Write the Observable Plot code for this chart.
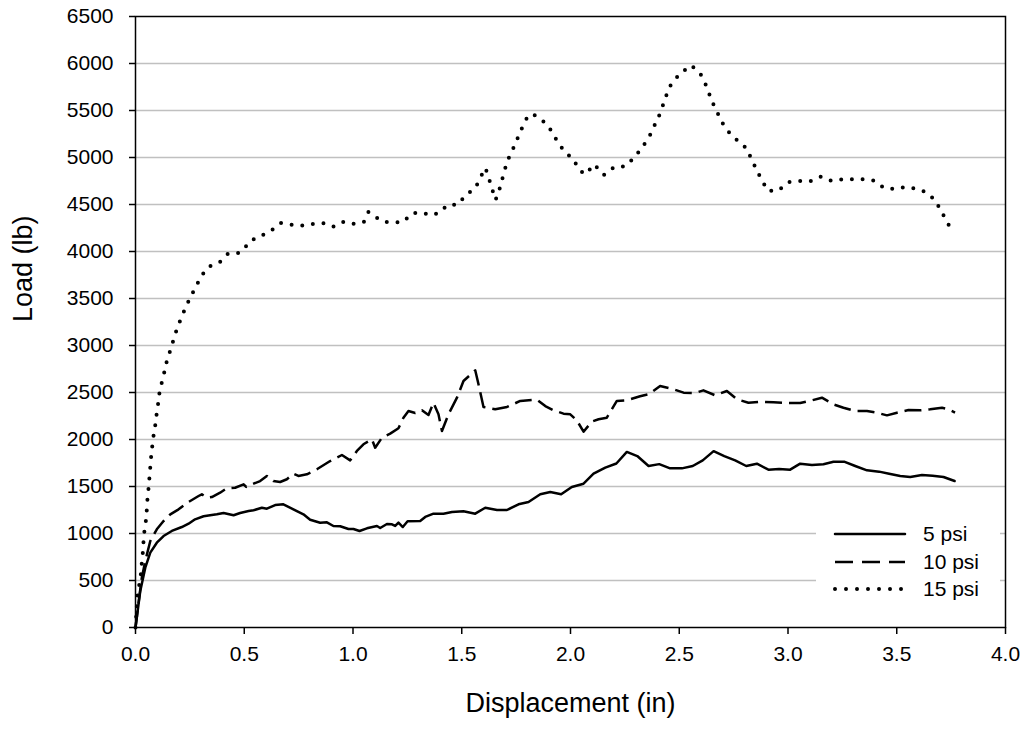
<!DOCTYPE html>
<html><head><meta charset="utf-8">
<script src="https://cdn.jsdelivr.net/npm/d3@7"></script>
<script src="https://cdn.jsdelivr.net/npm/@observablehq/plot@0.6"></script>
<style>
body{margin:0;background:#fff;font-family:"Liberation Sans",Arial,sans-serif;}
#wrap{position:relative;width:1027px;height:729px;}
#legend{position:absolute;left:816px;top:516px;width:184px;height:92px;background:#fff;}
.row{position:absolute;left:0;height:24px;width:184px;}
.row svg{position:absolute;left:17px;top:7px;}
.row span{position:absolute;left:107px;top:0;font-size:21px;line-height:24px;color:#000;}
</style></head><body><div id="wrap"><div id="legend"></div></div>
<script>
// ---- data ----
const seriesNames = ["5 psi", "10 psi", "15 psi"];
const xTicks = [0, 0.5, 1, 1.5, 2, 2.5, 3, 3.5, 4];
const yTicks = [0,500,1000,1500,2000,2500,3000,3500,4000,4500,5000,5500,6000,6500];
const xTitle = "Displacement (in)";
const yTitle = "Load (lb)";

const disp5 = [0,0.022,0.045,0.068,0.098,0.129,0.167,0.213,0.244,0.274,0.313,0.343,0.374,0.405,0.451,0.481,0.520,0.543,0.581,0.604,0.642,0.680,0.726,0.772,0.803,0.849,0.880,0.910,0.941,0.979,1.002,1.030,1.064,1.110,1.125,1.156,1.179,1.194,1.209,1.229,1.251,1.309,1.332,1.370,1.416,1.455,1.508,1.562,1.608,1.662,1.708,1.761,1.807,1.861,1.907,1.957,2.006,2.060,2.106,2.160,2.211,2.259,2.307,2.359,2.408,2.458,2.512,2.562,2.608,2.658,2.707,2.757,2.808,2.857,2.910,2.959,3.010,3.056,3.110,3.163,3.209,3.258,3.309,3.363,3.419,3.465,3.516,3.562,3.616,3.665,3.715,3.766];
const load5 = [0,389,636,796,902,973,1027,1069,1104,1151,1183,1194,1204,1218,1194,1218,1239,1247,1274,1264,1303,1311,1257,1204,1147,1115,1119,1080,1077,1048,1048,1027,1055,1080,1058,1101,1098,1080,1115,1069,1130,1133,1176,1211,1211,1229,1236,1211,1274,1250,1250,1311,1335,1417,1441,1417,1495,1530,1636,1700,1745,1868,1824,1718,1738,1693,1693,1718,1778,1876,1824,1778,1718,1743,1679,1686,1679,1743,1729,1736,1764,1764,1718,1672,1658,1636,1612,1601,1622,1615,1601,1558];

const disp10 = [0,0.015,0.029,0.045,0.068,0.098,0.129,0.160,0.198,0.244,0.290,0.305,0.328,0.351,0.389,0.420,0.458,0.497,0.509,0.543,0.573,0.604,0.634,0.665,0.696,0.726,0.749,0.788,0.834,0.895,0.949,0.987,1.018,1.048,1.087,1.102,1.133,1.171,1.209,1.232,1.255,1.286,1.317,1.347,1.370,1.393,1.409,1.439,1.478,1.508,1.562,1.577,1.600,1.654,1.708,1.769,1.846,1.884,1.922,1.968,1.999,2.029,2.060,2.098,2.129,2.167,2.213,2.259,2.320,2.359,2.412,2.474,2.520,2.573,2.611,2.665,2.719,2.765,2.818,2.872,2.933,2.995,3.056,3.110,3.156,3.209,3.255,3.309,3.363,3.409,3.455,3.501,3.554,3.608,3.654,3.708,3.738,3.768];
const load10 = [0,282,530,707,920,1045,1133,1204,1257,1335,1399,1417,1381,1388,1434,1481,1487,1523,1495,1530,1558,1612,1558,1548,1577,1636,1612,1630,1683,1771,1835,1778,1878,1949,2002,1913,2019,2062,2119,2232,2303,2282,2311,2261,2391,2268,2090,2268,2445,2622,2736,2587,2346,2321,2346,2410,2424,2356,2311,2275,2268,2204,2083,2190,2215,2232,2410,2417,2460,2481,2569,2534,2498,2495,2523,2470,2516,2428,2391,2402,2396,2388,2388,2417,2445,2374,2338,2303,2303,2285,2257,2285,2314,2311,2321,2338,2321,2285];

const disp15 = [0,0.009,0.018,0.025,0.029,0.034,0.037,0.041,0.048,0.052,0.055,0.060,0.064,0.068,0.072,0.077,0.083,0.091,0.097,0.104,0.110,0.121,0.133,0.144,0.160,0.175,0.190,0.210,0.230,0.253,0.278,0.302,0.339,0.385,0.423,0.460,0.494,0.524,0.572,0.621,0.667,0.714,0.763,0.812,0.862,0.909,0.958,1.007,1.050,1.071,1.103,1.137,1.180,1.228,1.275,1.320,1.358,1.398,1.434,1.482,1.519,1.563,1.586,1.609,1.625,1.640,1.655,1.668,1.681,1.695,1.708,1.731,1.752,1.773,1.795,1.824,1.871,1.913,1.940,1.972,2.014,2.040,2.069,2.108,2.154,2.202,2.252,2.293,2.331,2.363,2.385,2.408,2.426,2.443,2.464,2.508,2.556,2.600,2.624,2.642,2.662,2.687,2.711,2.760,2.809,2.832,2.855,2.880,2.908,2.955,3.004,3.052,3.102,3.151,3.199,3.248,3.297,3.346,3.395,3.442,3.492,3.540,3.589,3.637,3.677,3.704,3.731,3.756];
const load15 = [0,335,466,572,690,806,920,1027,1140,1253,1367,1481,1594,1707,1821,1928,2040,2154,2268,2381,2494,2608,2721,2835,2949,3062,3174,3292,3402,3516,3626,3739,3842,3881,3973,3973,4009,4108,4161,4218,4303,4285,4274,4292,4303,4264,4317,4292,4314,4420,4367,4317,4310,4310,4409,4413,4385,4413,4495,4498,4601,4676,4789,4888,4775,4662,4548,4615,4729,4842,4955,5066,5179,5293,5406,5466,5395,5282,5168,5066,4977,4867,4821,4927,4814,4899,4906,4998,5112,5225,5335,5449,5562,5676,5789,5902,5981,5878,5764,5651,5537,5424,5311,5197,5098,4984,4870,4757,4644,4647,4740,4750,4747,4796,4753,4768,4768,4768,4753,4675,4665,4686,4668,4629,4544,4431,4317,4208];

// ---- styles ----
const lineStyles = [
  {strokeWidth: 2.5, strokeDasharray: null, strokeLinecap: "round", legendDash: null},
  {strokeWidth: 2.5, strokeDasharray: "17,7", strokeLinecap: "butt", legendDash: "18,9"},
  {strokeWidth: 4, strokeDasharray: "0,10.7", strokeLinecap: "round", legendDash: "0,11"}
];
const series = [
  {name: seriesNames[0], disp: disp5, load: load5},
  {name: seriesNames[1], disp: disp10, load: load10},
  {name: seriesNames[2], disp: disp15, load: load15}
];

const lineMarks = series.map((s, k) => Plot.line(d3.range(s.disp.length), {
  x: i => s.disp[i], y: i => s.load[i], stroke: "black",
  strokeWidth: lineStyles[k].strokeWidth,
  strokeDasharray: lineStyles[k].strokeDasharray,
  strokeLinecap: lineStyles[k].strokeLinecap,
  strokeLinejoin: "round"
}));

const chart = Plot.plot({
  width: 1027, height: 729,
  marginLeft: 135, marginRight: 22, marginTop: 16, marginBottom: 102,
  style: {fontFamily: "Liberation Sans, Arial, sans-serif", fontSize: "21px", color: "black", background: "white"},
  x: {domain: [0, 4]},
  y: {domain: [0, 6500]},
  marks: [
    Plot.gridY(yTicks.filter(v => v > 0 && v < 6500), {stroke: "#c0c0c0", strokeOpacity: 1, strokeWidth: 1.5}),
    Plot.axisY(yTicks, {tickSize: 6, tickPadding: 16, tickFormat: d => String(d), label: null, strokeWidth: 1.5, fontSize: 21}),
    Plot.axisX(xTicks, {tickSize: 7, tickPadding: 12, tickFormat: d => d.toFixed(1), label: null, strokeWidth: 1.5, fontSize: 21}),
    Plot.text([yTitle], {text: d => d, frameAnchor: "left", dx: -112, rotate: -90, fontSize: 27, fill: "black"}),
    Plot.text([xTitle], {text: d => d, frameAnchor: "bottom", dy: 84, fontSize: 27, fill: "black"}),
    ...lineMarks,
    Plot.frame({stroke: "black", strokeWidth: 1.5})
  ]
});
document.getElementById("wrap").prepend(chart);

// ---- legend ----
const legend = document.getElementById("legend");
const rowCenters = [18, 46, 73];
series.forEach((s, k) => {
  const row = document.createElement("div");
  row.className = "row";
  row.style.top = (rowCenters[k] - 12) + "px";
  const st = lineStyles[k];
  row.innerHTML = `<svg width="76" height="10"><line x1="2" y1="5" x2="72" y2="5" stroke="black" stroke-width="${st.strokeWidth}" ${st.legendDash ? `stroke-dasharray="${st.legendDash}"` : ""} stroke-linecap="${st.strokeLinecap}"/></svg><span>${s.name}</span>`;
  legend.appendChild(row);
});
</script></body></html>
